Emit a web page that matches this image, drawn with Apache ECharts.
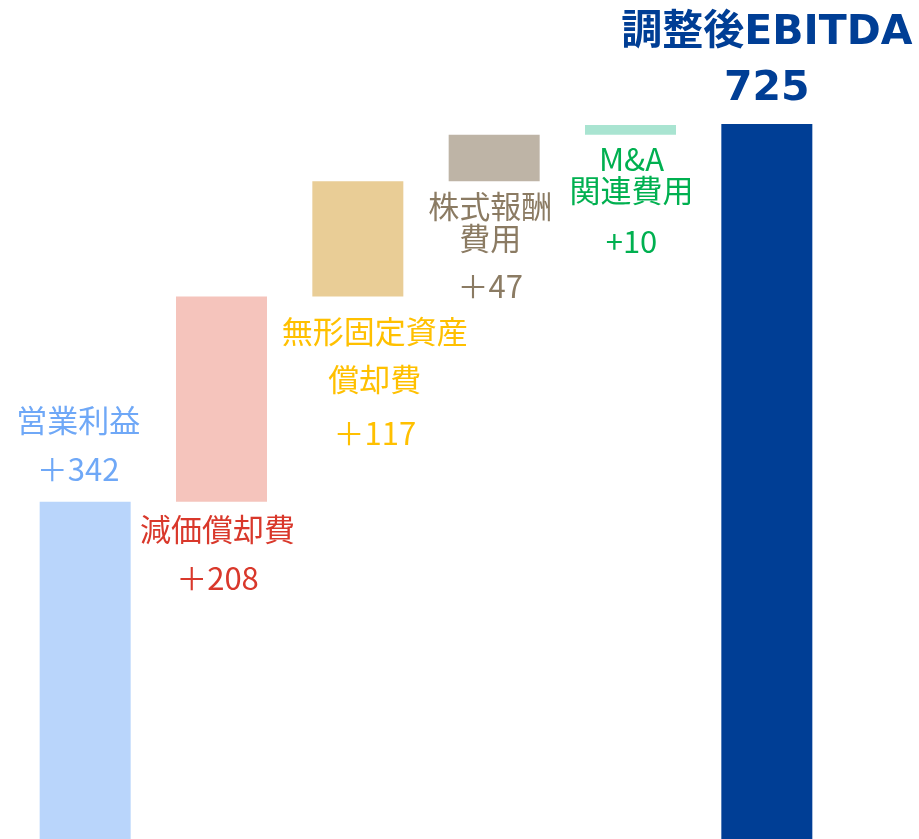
<!DOCTYPE html>
<html>
<head>
<meta charset="utf-8">
<script src="https://cdn.jsdelivr.net/npm/echarts@6/dist/echarts.min.js"></script>
<style>
html,body{margin:0;padding:0;background:#fff}
#main{width:919px;height:839px}
</style>
</head>
<body>
<div id="main"></div>
<script>
// data
var categories = ['営業利益','減価償却費','無形固定資産償却費','株式報酬費用','M&A関連費用','調整後EBITDA'];
var labelNames = ['営業利益','減価償却費','無形固定資産\n償却費','株式報酬\n費用','M&A\n関連費用','調整後EBITDA'];
var values = [342,208,117,47,10,725];
var valuePrefix = ['＋','＋','＋','＋','+',''];
var isTotal = [false,false,false,false,false,true];

// styles
var barColors = ['#B9D5FB','#F5C4BC','#E9CD96','#BEB4A6','#A9E4D1','#003E95'];
var textColors = ['#6FA8F7','#D9382B','#FFC000','#8B7B63','#00B050','#003E95'];
var labelPos = ['top','bottom','bottom','bottom','bottom','top'];
var labelDist = [16,12,11,9,9,7];
var labelDx = [-7,-4,17,-4,1,0];
var nameLH = [32,32,48,32,31,56];
var gapLH = [17,17,14,16,19,0];
var valueLH = [32,32,32,32,32,56];

var baseData = [];
var barData = [];
var run = 0;
for (var i = 0; i < values.length; i++) {
	var base = isTotal[i] ? 0 : run;
	baseData.push(base);
	if (!isTotal[i]) run += values[i];

	var lines = labelNames[i].split('\n');
	var txt = '';
	for (var k = 0; k < lines.length; k++) {
		txt += (k > 0 ? '\n' : '') + '{n|' + lines[k] + '}';
	}
	if (gapLH[i] > 0) txt += '\n{g| }';
	txt += '\n{v|' + valuePrefix[i] + values[i] + '}';

	var fs = isTotal[i] ? 41 : 31;
	var fw = isTotal[i] ? 'bold' : 'normal';
	var ff = isTotal[i] ? '"DejaVu Sans", "Noto Sans CJK JP"' : '"Noto Sans CJK JP"';
	barData.push({
		value: values[i],
		itemStyle: { color: barColors[i] },
		label: {
			show: true,
			position: labelPos[i],
			distance: labelDist[i],
			offset: [labelDx[i], 0],
			formatter: txt,
			rich: {
				n: { fontSize: fs, fontWeight: fw, lineHeight: nameLH[i], color: textColors[i], fontFamily: ff, align: 'center' },
				g: { fontSize: 1, lineHeight: gapLH[i] },
				v: { fontSize: fs, fontWeight: fw, lineHeight: valueLH[i], color: textColors[i], fontFamily: ff, align: 'center' }
			}
		}
	});
}

var myChart = echarts.init(document.getElementById('main'));
var option = {
	animation: false,
	grid: { left: 17, right: 84, top: 50, bottom: 0 },
	xAxis: { type: 'category', data: categories, show: false },
	yAxis: { type: 'value', min: 0, max: 800, show: false },
	series: [
		{
			name: 'base',
			type: 'bar',
			stack: 'w',
			silent: true,
			barWidth: 91,
			itemStyle: { color: 'transparent' },
			data: baseData
		},
		{
			name: 'value',
			type: 'bar',
			stack: 'w',
			barWidth: 91,
			data: barData
		}
	]
};
myChart.setOption(option);
</script>
</body>
</html>
